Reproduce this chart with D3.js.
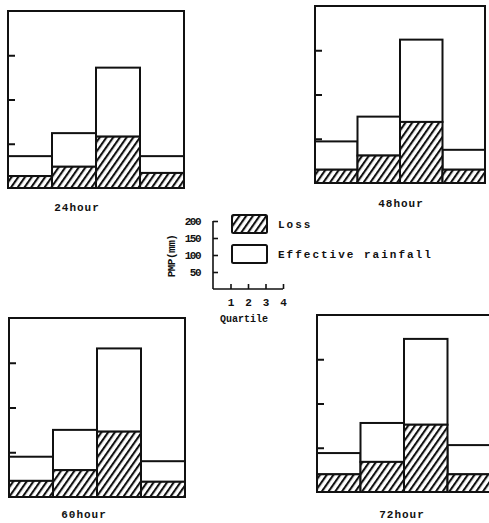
<!DOCTYPE html>
<html>
<head>
<meta charset="utf-8">
<script src="https://cdn.jsdelivr.net/npm/d3@7"></script>
<style>
  body { margin: 0; background: #fff; }
  text { font-family: "Liberation Mono", "DejaVu Sans Mono", monospace; font-weight: bold; fill: #111; }
</style>
</head>
<body>
<svg width="489" height="523"></svg>
<script>
const svg = d3.select("svg");

// data (mm)
const quartiles = [1, 2, 3, 4];
const durations = ["24hour", "48hour", "60hour", "72hour"];
const loss24 = [13.5, 24, 58, 17];
const eff24 = [22.5, 38, 78, 19];
const loss48 = [15, 31, 69, 15];
const eff48 = [32, 44, 93, 22.5];
const loss60 = [18, 30, 73, 17];
const eff60 = [27, 45, 93, 23];
const loss72 = [20, 34, 76, 20];
const eff72 = [24, 44, 97, 33];
const yTicks = [50, 100, 150];
const legendYTicks = [50, 100, 150, 200];
const legendXTicks = [1, 2, 3, 4];

const lossSets = [loss24, loss48, loss60, loss72];
const effSets = [eff24, eff48, eff60, eff72];

// panel boxes [left, top, right, bottom] and title spot
const panels = [
  { box: [8, 11, 184, 188], title: [77, 211] },
  { box: [315, 6, 485, 183], title: [401, 207] },
  { box: [9, 318, 185, 497], title: [84, 518] },
  { box: [317, 315, 491, 492], title: [402, 518] }
];

// hatch
const defs = svg.append("defs");
const pat = defs.append("pattern")
  .attr("id", "hatch")
  .attr("patternUnits", "userSpaceOnUse")
  .attr("width", 5.5)
  .attr("height", 5.5)
  .attr("patternTransform", "rotate(35)");
pat.append("rect").attr("width", 5.5).attr("height", 5.5).attr("fill", "#fff");
pat.append("line")
  .attr("x1", 1).attr("y1", 0).attr("x2", 1).attr("y2", 5.5)
  .attr("stroke", "#111").attr("stroke-width", 2.2);

panels.forEach((p, i) => {
  const [x0, y0, x1, y1] = p.box;
  const x = d3.scaleBand().domain(quartiles).range([x0, x1]).padding(0);
  const y = d3.scaleLinear().domain([0, 200]).range([y1, y0]);
  const g = svg.append("g");

  const rows = quartiles.map((q, j) => ({ q, loss: lossSets[i][j], eff: effSets[i][j] }));

  // frame
  g.append("rect")
    .attr("x", x0).attr("y", y0)
    .attr("width", x1 - x0).attr("height", y1 - y0)
    .attr("fill", "none").attr("stroke", "#111").attr("stroke-width", 2);

  // effective rainfall (upper part)
  g.selectAll(".eff").data(rows).enter().append("rect")
    .attr("x", d => x(d.q))
    .attr("y", d => y(d.loss + d.eff))
    .attr("width", x.bandwidth())
    .attr("height", d => y(d.loss) - y(d.loss + d.eff))
    .attr("fill", "#fff").attr("stroke", "#111").attr("stroke-width", 2);

  // loss (hatched base)
  g.selectAll(".loss").data(rows).enter().append("rect")
    .attr("x", d => x(d.q))
    .attr("y", d => y(d.loss))
    .attr("width", x.bandwidth())
    .attr("height", d => y(0) - y(d.loss))
    .attr("fill", "url(#hatch)").attr("stroke", "#111").attr("stroke-width", 2);

  // inward ticks on left edge
  g.append("g")
    .attr("transform", `translate(${x0},0)`)
    .call(d3.axisRight(y).tickValues(yTicks).tickSize(7).tickFormat(""))
    .call(a => a.select(".domain").remove())
    .selectAll("line").attr("stroke", "#111").attr("stroke-width", 2);

  g.append("text")
    .attr("x", p.title[0]).attr("y", p.title[1])
    .attr("text-anchor", "middle")
    .style("font-size", "11px")
    .style("letter-spacing", "1px")
    .text(durations[i]);
});

// small key axis
const ky = d3.scaleLinear().domain([0, 200]).range([289, 221]);
const kx = d3.scaleLinear().domain([0, 4]).range([213, 283]);
const key = svg.append("g");

key.append("g")
  .attr("transform", "translate(213,0)")
  .call(d3.axisLeft(ky).tickValues(legendYTicks).tickSize(-5).tickPadding(13))
  .call(a => a.select(".domain").attr("d", "M0,289V221"))
  .call(a => a.selectAll("line").attr("stroke", "#111").attr("stroke-width", 1.6))
  .call(a => a.selectAll("path").attr("stroke", "#111").attr("stroke-width", 1.6))
  .call(a => a.selectAll("text")
    .style("font-family", "'Liberation Mono', monospace")
    .style("font-weight", "bold")
    .style("font-size", "11px")
    .style("letter-spacing", "-1.5px")
    .attr("fill", "#111"));

key.append("g")
  .attr("transform", "translate(0,289)")
  .call(d3.axisBottom(kx).tickValues(legendXTicks).tickFormat(d3.format("d")).tickSize(-5).tickPadding(9))
  .call(a => a.select(".domain").attr("d", "M213,0H283"))
  .call(a => a.selectAll("line").attr("stroke", "#111").attr("stroke-width", 1.6))
  .call(a => a.selectAll("path").attr("stroke", "#111").attr("stroke-width", 1.6))
  .call(a => a.selectAll("text")
    .style("font-family", "'Liberation Mono', monospace")
    .style("font-weight", "bold")
    .style("font-size", "11px")
    .attr("fill", "#111"));

key.append("text")
  .attr("x", 244).attr("y", 322)
  .attr("text-anchor", "middle")
  .style("font-size", "10px")
  .text("Quartile");

key.append("text")
  .attr("transform", "translate(175,256) rotate(-90)")
  .attr("text-anchor", "middle")
  .style("font-size", "11px")
  .style("letter-spacing", "-0.5px")
  .text("PMP(mm)");

// legend
const legendItems = [
  { label: "Loss", fill: "url(#hatch)", y: 215 },
  { label: "Effective rainfall", fill: "#fff", y: 245 }
];
const leg = svg.append("g");
leg.selectAll("rect").data(legendItems).enter().append("rect")
  .attr("x", 232).attr("y", d => d.y)
  .attr("width", 35).attr("height", 18)
  .attr("rx", 1.5)
  .attr("fill", d => d.fill)
  .attr("stroke", "#111").attr("stroke-width", 2);
leg.selectAll("text").data(legendItems).enter().append("text")
  .attr("x", 278).attr("y", d => d.y + 13)
  .style("font-size", "11px")
  .style("letter-spacing", "2px")
  .text(d => d.label);
</script>
</body>
</html>
